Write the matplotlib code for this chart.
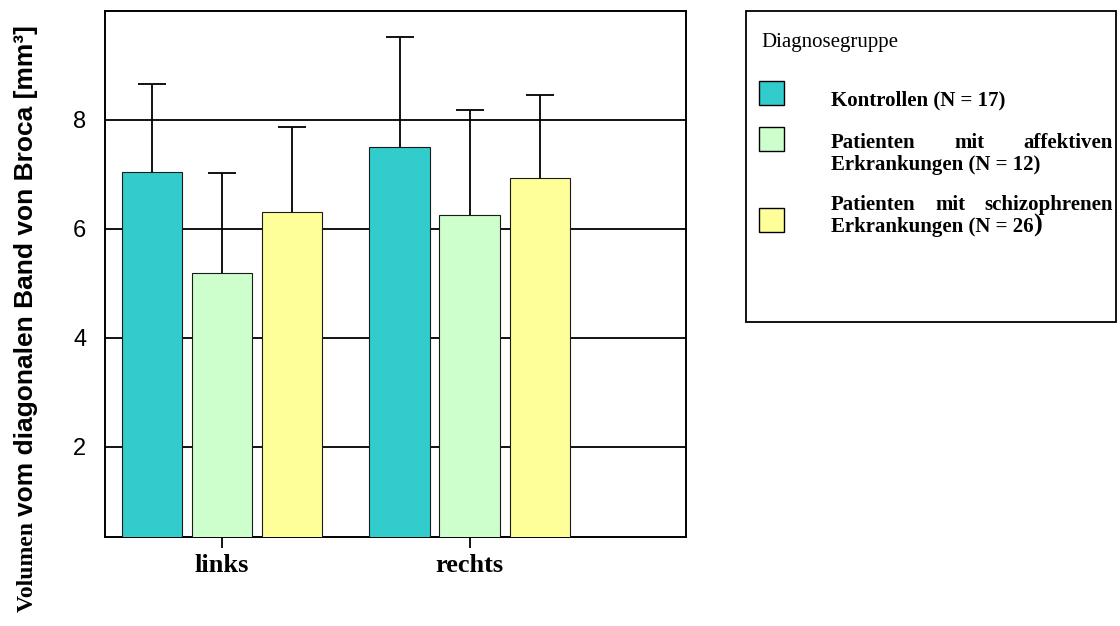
import numpy as np
import matplotlib
matplotlib.use('Agg')
import matplotlib.pyplot as plt
from matplotlib.patches import Rectangle

# Data
sides = ['links', 'rechts']
group_names = ['Kontrollen (N = 17)',
               'Patienten mit affektiven Erkrankungen (N = 12)',
               'Patienten mit schizophrenen Erkrankungen (N = 26)']
kontrollen_mean = [7.04, 7.51]
affektiv_mean = [5.19, 6.26]
schizo_mean = [6.31, 6.93]
kontrollen_sd = [1.62, 2.01]
affektiv_sd = [1.83, 1.93]
schizo_sd = [1.56, 1.52]

means = [kontrollen_mean, affektiv_mean, schizo_mean]
sds = [kontrollen_sd, affektiv_sd, schizo_sd]
colors = ['#33CCCC', '#CCFFCC', '#FFFF99']

W, H = 1120, 626
fig = plt.figure(figsize=(W / 100, H / 100), dpi=100)


def fx(x):
    return x / W


def fy(y):
    return 1 - y / H


ax = fig.add_axes([fx(105), fy(537), fx(686) - fx(105), fy(11) - fy(537)])

x = np.arange(len(sides))
width = 0.244
step = 0.283
for i in range(3):
    pos = x + (i - 1) * step
    m = np.array(means[i])
    sd = np.array(sds[i])
    ax.bar(pos, m, width=width, bottom=0, color=colors[i],
           edgecolor='#1a1a1a', linewidth=0.8, zorder=3)
    # only the upper half of the error bar, with a cap on top
    ax.vlines(pos, m, m + sd, color='black', linewidth=1.3, zorder=4)
    ax.plot(pos, m + sd, linestyle='none', marker='_', markersize=20,
            markeredgewidth=1.3, color='black', zorder=4)

ax.set_xlim(-0.472, 1.873)
ax.set_ylim(0.34, 10.0)
ax.set_yticks([2, 4, 6, 8])
ax.set_yticklabels(['2', '4', '6', '8'], fontfamily='Liberation Sans', fontsize=17)
ax.tick_params(axis='y', length=0, pad=13.5)
ax.set_xticks(x)
ax.set_xticklabels(sides, fontfamily='Liberation Serif', fontweight='bold', fontsize=19)
ax.tick_params(axis='x', length=8, width=1.3, direction='out', pad=4)
ax.yaxis.grid(True, color='black', linewidth=1.3, zorder=0)
ax.set_axisbelow(True)
for s in ax.spines.values():
    s.set_linewidth(1.4)

# y label with mixed fonts ("Volumen" serif, rest sans)
fig.canvas.draw()
r = fig.canvas.get_renderer()
t1 = fig.text(fx(33), fy(612), 'Volumen ', rotation=90, rotation_mode='anchor',
              ha='left', va='baseline', fontfamily='Liberation Serif',
              fontweight='bold', fontsize=17)
bb = t1.get_window_extent(renderer=r)
fig.text(fx(33), bb.y1 / H, 'vom diagonalen Band von Broca [mm³]',
         rotation=90, rotation_mode='anchor', ha='left', va='baseline',
         fontfamily='Liberation Sans', fontweight='bold', fontsize=19)

# legend box
fig.add_artist(Rectangle((fx(746), fy(322)), fx(1116) - fx(746), fy(11) - fy(322),
                         transform=fig.transFigure, fill=False, edgecolor='black', linewidth=1.3))
fig.text(fx(761), fy(42), 'Diagnosegruppe', ha='left', va='center',
         fontfamily='Liberation Serif', fontsize=15)

sq_tops = [81, 127, 208]
for c, top in zip(colors, sq_tops):
    fig.add_artist(Rectangle((fx(759), fy(top + 24)), fx(25), 24 / H,
                             transform=fig.transFigure, facecolor=c,
                             edgecolor='black', linewidth=1.0))

lkw = dict(fontfamily='Liberation Serif', fontweight='bold', fontsize=15, va='baseline')
x0, x1 = 831, 1113


def justified(words, ybase):
    # place words so the line fills x0..x1 with even gaps
    texts = [fig.text(fx(x0), fy(ybase), w, ha='left', **lkw) for w in words]
    widths = [t.get_window_extent(renderer=r).width for t in texts]
    gap = (x1 - x0 - sum(widths)) / (len(words) - 1)
    cur = x0
    for t, w in zip(texts, widths):
        t.set_x(fx(cur))
        cur += w + gap


fig.text(fx(x0), fy(105), group_names[0], ha='left', **lkw)
w1 = group_names[1].split()
justified(w1[:3], 148)
fig.text(fx(x0), fy(170), ' '.join(w1[3:]), ha='left', **lkw)
w2 = group_names[2].split()
justified(w2[:3], 210)
last = ' '.join(w2[3:])
t3 = fig.text(fx(x0), fy(232), last[:-1], ha='left', **lkw)
bb3 = t3.get_window_extent(renderer=r)
fig.text(bb3.x1 / W, fy(232), last[-1], ha='left', fontfamily='Liberation Serif',
         fontweight='bold', fontsize=19, va='baseline')

fig.savefig('out.png', dpi=100)
